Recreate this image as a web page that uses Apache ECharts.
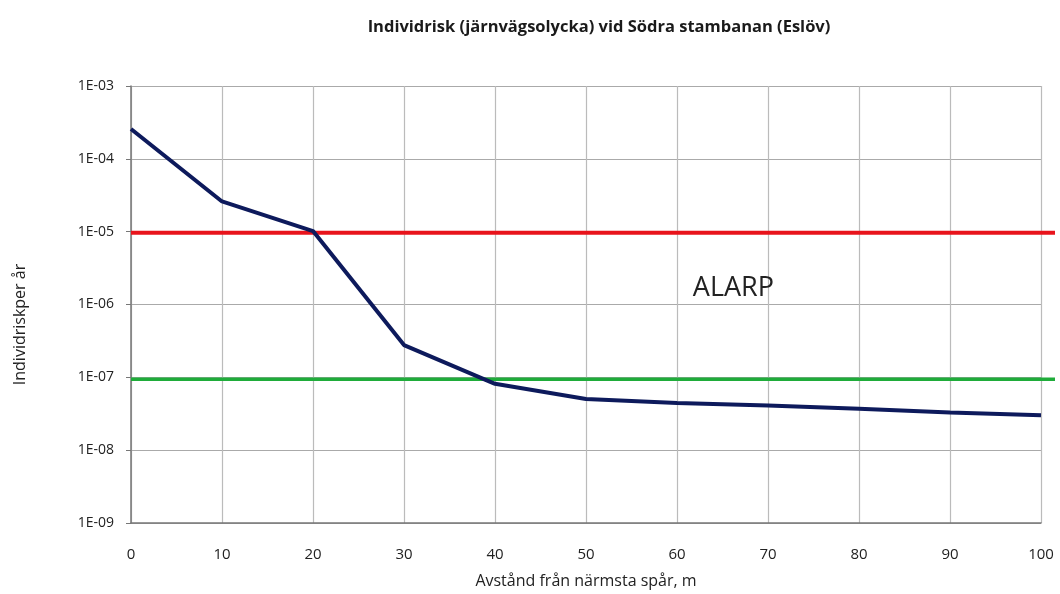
<!DOCTYPE html>
<html><head><meta charset="utf-8">
<script src="https://cdn.jsdelivr.net/npm/echarts@6/dist/echarts.min.js"></script>
<style>html,body{margin:0;padding:0;background:#fff}#c{width:1060px;height:594px}</style>
</head><body><div id="c"></div>
<script>
const distances = [0, 10, 20, 30, 40, 50, 60, 70, 80, 90, 100];
const risk = [2.57e-4, 2.6e-5, 1.02e-5, 2.77e-7, 8.15e-8, 5.05e-8, 4.45e-8, 4.1e-8, 3.7e-8, 3.3e-8, 3.02e-8];
const upperLimit = 1e-5;
const lowerLimit = 1e-7;
const yTickLabels = ['1E-09','1E-08','1E-07','1E-06','1E-05','1E-04','1E-03'];
const alarpLabel = { text: 'ALARP', x: 66.2, y: 1.65e-6 };

const chart = echarts.init(document.getElementById('c'));
const font = '"Open Sans", "Noto Sans", sans-serif';
function fmt(v){
  const e = Math.round(Math.log10(v));
  const s = (e < 0 ? '-' : '') + String(Math.abs(e)).padStart(2,'0');
  return '1E' + s;
}
chart.setOption({
  animation: false,
  backgroundColor: '#fff',
  title: {
    text: 'Individrisk (järnvägsolycka) vid Södra stambanan (Eslöv)',
    left: 594, top: 14, textAlign: 'center',
    textStyle: { fontFamily: font, fontSize: 16.5, fontWeight: 'bold', color: '#1a1a1a' }
  },
  grid: [
    { left: 131, right: 19, top: 86, bottom: 68 },
    { left: 131, right: 5, top: 86, bottom: 68 }
  ],
  xAxis: [{
    type: 'value', min: 0, max: 100, interval: 10, gridIndex: 0,
    name: 'Avstånd från närmsta spår, m', nameLocation: 'middle', nameGap: 50,
    nameTextStyle: { fontFamily: font, fontSize: 16, color: '#222' },
    axisLine: { show: true, lineStyle: { color: '#777', width: 1.5 } },
    axisTick: { show: false },
    axisLabel: { fontFamily: font, fontSize: 15, color: '#222', margin: 24 },
    splitLine: { show: true, lineStyle: { color: '#bbb', width: 1.2 } }
  }, {
    type: 'value', min: 0, max: 1, gridIndex: 1, show: false
  }],
  yAxis: [{
    type: 'log', logBase: 10, min: 1e-9, max: 1e-3, gridIndex: 0,
    name: 'Individriskper år', nameLocation: 'middle', nameGap: 103, nameRotate: 90,
    nameTextStyle: { fontFamily: font, fontSize: 16, color: '#222', padding: [0, 40, 0, 0] },
    axisLine: { show: true, lineStyle: { color: '#777', width: 1.5 } },
    axisTick: { show: true, length: 5, lineStyle: { color: '#777' } },
    axisLabel: { fontFamily: font, fontSize: 14, color: '#222', margin: 17,
      formatter: v => { const l = fmt(v); return yTickLabels.includes(l) ? l : ''; } },
    splitLine: { show: true, lineStyle: { color: '#aaa', width: 1.2 } }
  }, {
    type: 'log', logBase: 10, min: 1e-9, max: 1e-3, gridIndex: 1, show: false
  }],
  series: [
    {
      type: 'line', xAxisIndex: 1, yAxisIndex: 1, symbol: 'none',
      data: [[0, upperLimit], [1, upperLimit]],
      lineStyle: { color: '#e8141c', width: 4 }, z: 3
    },
    {
      type: 'line', xAxisIndex: 1, yAxisIndex: 1, symbol: 'none',
      data: [[0, lowerLimit], [1, lowerLimit]],
      lineStyle: { color: '#1fac3a', width: 3.5 }, z: 3
    },
    {
      type: 'line', xAxisIndex: 0, yAxisIndex: 0, symbol: 'none',
      data: distances.map((d, i) => [d, risk[i]]),
      lineStyle: { color: '#0d1a5c', width: 4 }, z: 4,
      markPoint: {
        symbol: 'rect', symbolSize: 1, itemStyle: { color: 'transparent' },
        data: [{ coord: [alarpLabel.x, alarpLabel.y], value: alarpLabel.text }],
        label: { show: true, formatter: alarpLabel.text, position: 'inside',
          fontFamily: font, fontSize: 27, color: '#222' }
      }
    }
  ]
});
</script></body></html>
